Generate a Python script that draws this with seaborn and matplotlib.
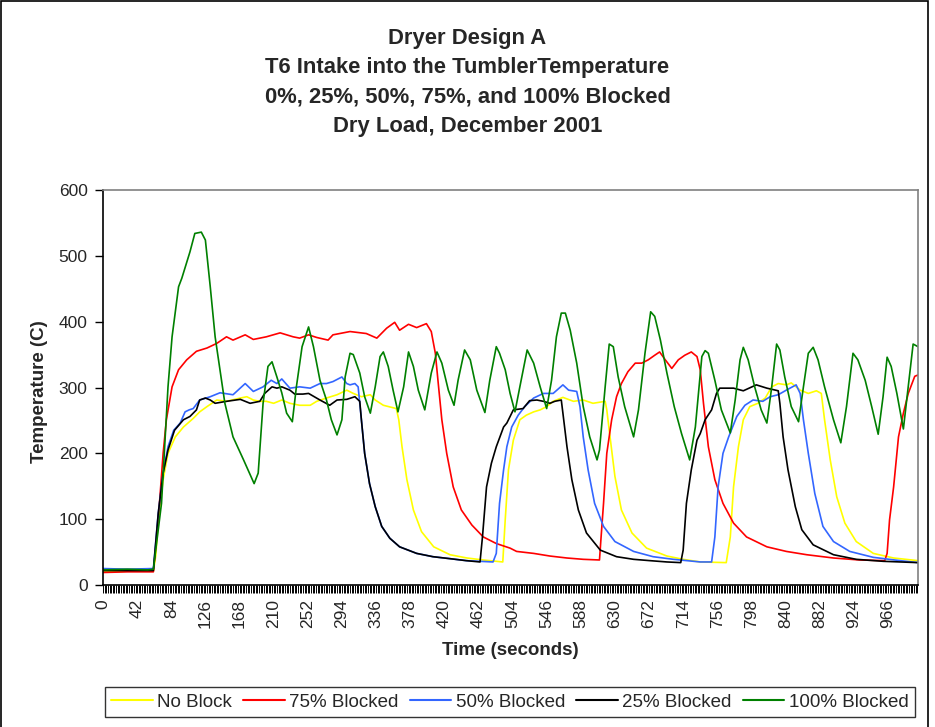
import pandas as pd
import matplotlib
matplotlib.use("Agg")
import matplotlib.pyplot as plt
import seaborn as sns
from matplotlib.lines import Line2D
from matplotlib.patches import Rectangle
from matplotlib.ticker import MultipleLocator, FixedLocator

# series (time in s, temperature in C)
series_names = ["No Block", "75% Blocked", "50% Blocked", "25% Blocked", "100% Blocked"]
series_colors = ["#FFFF00", "#FF0000", "#3366FF", "#000000", "#008000"]

t_noblock = [0, 30, 62, 65, 68, 74, 80, 89, 99, 111, 119, 128, 140, 152, 169, 177, 185, 193, 201, 210,
             220, 230, 242, 255, 263, 275, 288, 300, 308, 318, 329, 335, 345, 361, 364, 368, 374, 382, 392, 407,
             427, 448, 468, 492, 495, 499, 505, 513, 521, 530, 538, 546, 554, 566, 579, 591, 603, 618, 620, 624,
             630, 638, 651, 669, 694, 714, 735, 767, 772, 776, 782, 788, 796, 806, 815, 823, 831, 841, 847, 858,
             868, 878, 884, 888, 895, 903, 913, 927, 948, 973, 1003]
temp_noblock = [20, 21, 21, 45, 99, 160, 200, 225, 240, 253, 263, 271, 281, 279, 284, 286, 281, 279, 279, 276,
                281, 276, 273, 273, 279, 284, 289, 296, 291, 286, 289, 281, 273, 268, 251, 210, 160, 114, 81, 58,
                46, 41, 38, 35, 99, 175, 220, 251, 258, 263, 266, 271, 279, 285, 279, 281, 276, 279, 266, 225,
                165, 114, 79, 56, 44, 39, 35, 34, 73, 149, 210, 251, 271, 276, 284, 301, 306, 304, 307, 296,
                291, 295, 291, 251, 190, 134, 94, 66, 48, 41, 37]

t_75 = [0, 30, 62, 68, 74, 78, 85, 93, 103, 115, 128, 140, 152, 160, 175, 185, 201, 218, 234, 242,
        253, 263, 277, 283, 304, 324, 337, 349, 359, 365, 376, 386, 398, 404, 409, 413, 417, 423, 431, 441,
        454, 468, 484, 501, 509, 530, 550, 571, 591, 611, 613, 616, 620, 626, 632, 638, 646, 655, 663, 671,
        679, 685, 692, 700, 708, 716, 724, 731, 735, 739, 745, 753, 763, 776, 792, 817, 841, 866, 899, 931,
        962, 965, 968, 973, 979, 985, 991, 999, 1003]
temp_75 = [19, 20, 20, 99, 200, 251, 301, 327, 342, 355, 360, 367, 377, 372, 380, 373, 377, 383, 377, 375,
           380, 376, 372, 380, 385, 382, 375, 390, 399, 387, 396, 391, 397, 385, 352, 301, 251, 200, 149, 114,
           91, 73, 63, 56, 51, 48, 44, 41, 39, 38, 73, 124, 200, 251, 286, 306, 324, 337, 337, 342,
           349, 354, 342, 329, 342, 349, 354, 347, 327, 276, 210, 160, 124, 94, 73, 58, 51, 46, 41, 38,
           37, 48, 99, 149, 225, 261, 291, 317, 319]

t_50 = [0, 30, 62, 68, 74, 80, 87, 95, 101, 106, 111, 119, 132, 144, 160, 175, 185, 197, 207, 214,
        220, 230, 242, 255, 267, 275, 283, 294, 300, 304, 310, 314, 318, 322, 328, 335, 343, 353, 365, 386,
        406, 427, 447, 480, 484, 488, 493, 497, 503, 511, 519, 530, 542, 554, 566, 573, 583, 587, 591, 597,
        605, 616, 630, 653, 677, 702, 735, 749, 753, 757, 763, 770, 780, 790, 800, 812, 821, 831, 841, 853,
        858, 862, 868, 876, 886, 899, 919, 948, 981, 1003]
temp_50 = [25, 24, 25, 109, 170, 210, 235, 246, 263, 266, 268, 281, 286, 292, 289, 306, 294, 301, 311, 306,
           313, 299, 301, 299, 306, 306, 309, 316, 306, 304, 306, 301, 251, 200, 154, 119, 89, 71, 58, 48,
           43, 40, 37, 35, 48, 124, 175, 210, 240, 258, 271, 284, 291, 291, 304, 296, 294, 271, 225, 175,
           124, 89, 66, 51, 43, 39, 35, 35, 73, 149, 200, 225, 256, 273, 281, 279, 286, 289, 296, 304,
           291, 251, 200, 139, 89, 66, 51, 42, 37, 34]

t_25 = [0, 30, 62, 68, 74, 80, 88, 99, 107, 115, 119, 126, 132, 138, 152, 169, 181, 193, 199, 208,
        214, 220, 230, 236, 246, 253, 267, 279, 288, 300, 310, 316, 318, 322, 328, 335, 343, 353, 365, 386,
        406, 427, 447, 464, 467, 472, 478, 484, 493, 497, 505, 511, 517, 525, 534, 542, 550, 556, 564, 566,
        571, 577, 585, 595, 612, 632, 653, 673, 694, 711, 714, 718, 724, 731, 735, 741, 749, 755, 759, 776,
        788, 804, 817, 831, 833, 837, 843, 852, 860, 874, 899, 927, 960, 1003]
temp_25 = [22, 22, 22, 109, 170, 205, 235, 251, 256, 266, 281, 284, 281, 276, 279, 282, 276, 279, 291, 301,
           299, 301, 296, 290, 290, 291, 281, 273, 281, 282, 286, 279, 251, 200, 154, 119, 89, 71, 58, 48,
           43, 40, 37, 35, 73, 149, 185, 210, 240, 246, 266, 267, 268, 280, 281, 279, 276, 279, 281, 261,
           210, 160, 114, 79, 53, 43, 39, 37, 35, 34, 53, 124, 175, 220, 230, 251, 266, 291, 299, 299,
           295, 304, 299, 295, 276, 225, 175, 119, 84, 61, 46, 39, 36, 34]

t_100 = [0, 30, 55, 62, 72, 80, 85, 93, 97, 107, 113, 121, 126, 132, 138, 144, 150, 160, 173, 186,
         191, 197, 203, 208, 214, 220, 226, 233, 238, 245, 253, 259, 267, 275, 281, 288, 294, 298, 304, 308,
         316, 322, 329, 335, 341, 345, 351, 357, 363, 370, 376, 382, 388, 396, 404, 411, 417, 425, 432, 437,
         445, 452, 460, 470, 476, 484, 488, 495, 501, 507, 513, 522, 530, 538, 546, 552, 558, 564, 569, 575,
         583, 591, 599, 608, 611, 618, 623, 628, 634, 642, 653, 659, 667, 674, 679, 686, 694, 703, 712, 722,
         729, 737, 741, 745, 753, 761, 772, 778, 784, 788, 794, 802, 810, 817, 823, 829, 833, 839, 847, 856,
         862, 868, 874, 880, 888, 899, 908, 915, 923, 929, 938, 946, 954, 960, 965, 970, 977, 985, 991, 997,
         1003]
temp_100 = [23, 24, 23, 24, 124, 301, 377, 453, 466, 506, 534, 536, 524, 453, 377, 327, 276, 225, 190, 154,
            170, 276, 332, 339, 316, 292, 261, 248, 301, 362, 392, 362, 311, 281, 251, 228, 251, 316, 352, 350,
            322, 286, 261, 301, 347, 354, 332, 296, 263, 301, 354, 332, 296, 266, 322, 354, 337, 296, 273, 311,
            357, 342, 296, 262, 311, 362, 352, 327, 291, 263, 301, 357, 337, 301, 268, 311, 377, 413, 413, 387,
            337, 271, 225, 190, 205, 301, 366, 362, 316, 271, 225, 266, 352, 415, 408, 372, 322, 271, 230, 190,
            240, 347, 356, 352, 311, 266, 231, 281, 342, 361, 342, 301, 266, 246, 301, 366, 357, 316, 271, 248,
            301, 352, 361, 342, 301, 251, 216, 271, 352, 342, 311, 271, 229, 286, 346, 332, 291, 237, 301, 366,
            362]

x_tick_labels = list(range(0, 967, 42))
y_ticks = [0, 100, 200, 300, 400, 500, 600]


def main():
    sns.set_style("white")
    plt.rcParams["font.family"] = ["Liberation Sans", "DejaVu Sans"]

    frames = []
    for name, t, v in zip(series_names,
                          [t_noblock, t_75, t_50, t_25, t_100],
                          [temp_noblock, temp_75, temp_50, temp_25, temp_100]):
        frames.append(pd.DataFrame({"Time": t, "Temp": v, "Series": name}))
    df = pd.concat(frames, ignore_index=True)

    fig = plt.figure(figsize=(9.35, 7.27), dpi=100)
    ax = fig.add_axes([103 / 935, 1 - 585 / 727, 815 / 935, 395 / 727])

    sns.lineplot(data=df, x="Time", y="Temp", hue="Series", hue_order=series_names,
                 palette=series_colors, estimator=None, sort=False, linewidth=1.2,
                 legend=False, ax=ax)

    ax.set_xlim(0, 1003)
    ax.set_ylim(0, 600)
    ax.set_yticks(y_ticks)
    ax.xaxis.set_major_locator(FixedLocator(x_tick_labels))
    ax.xaxis.set_minor_locator(MultipleLocator(2))
    ax.set_xticklabels([str(v) for v in x_tick_labels], rotation=90)
    ax.tick_params(axis="y", which="major", direction="out", length=6, width=1,
                   labelsize=12.5, pad=5, left=True, color="black")
    ax.tick_params(axis="x", which="both", direction="out", length=6, width=0.7,
                   bottom=True, color="black")
    ax.tick_params(axis="x", which="major", labelsize=12.5, pad=4)

    for side in ["left", "bottom"]:
        ax.spines[side].set_color("black")
        ax.spines[side].set_linewidth(1.2)
    for side in ["top", "right"]:
        ax.spines[side].set_color("#808080")
        ax.spines[side].set_linewidth(1.2)
        ax.spines[side].set_visible(True)

    ax.set_xlabel("Time (seconds)", fontsize=13.5, fontweight="bold")
    ax.set_ylabel("Temperature (C)", fontsize=13.5, fontweight="bold")
    ax.xaxis.set_label_coords(0.5, -0.165)
    ax.xaxis.label.set_va("center")
    ax.yaxis.set_label_coords(-0.078, 0.49)
    ax.yaxis.label.set_va("center")

    fig.text(0.5, 1 - 82.5 / 727,
             "Dryer Design A\nT6 Intake into the TumblerTemperature\n"
             "0%, 25%, 50%, 75%, and 100% Blocked\nDry Load, December 2001",
             ha="center", va="center", fontsize=15.8, fontweight="bold", linespacing=1.53)

    handles = [Line2D([0], [0], color=c, lw=1.5) for c in series_colors]
    leg = fig.legend(handles, series_names, loc="center", ncol=5,
                     bbox_to_anchor=(510 / 935, 1 - 702 / 727), fontsize=13.5,
                     handlelength=2.2, handletextpad=0.25, columnspacing=0.6,
                     frameon=True, fancybox=False, borderpad=0.35)
    leg.get_frame().set_edgecolor("black")
    leg.get_frame().set_linewidth(1)

    fig.patches.append(Rectangle((0.001, -0.01), 0.992, 1.009, transform=fig.transFigure,
                                 fill=False, edgecolor="black", linewidth=1.2))

    fig.savefig("out.png", dpi=100)


if __name__ == "__main__":
    main()
